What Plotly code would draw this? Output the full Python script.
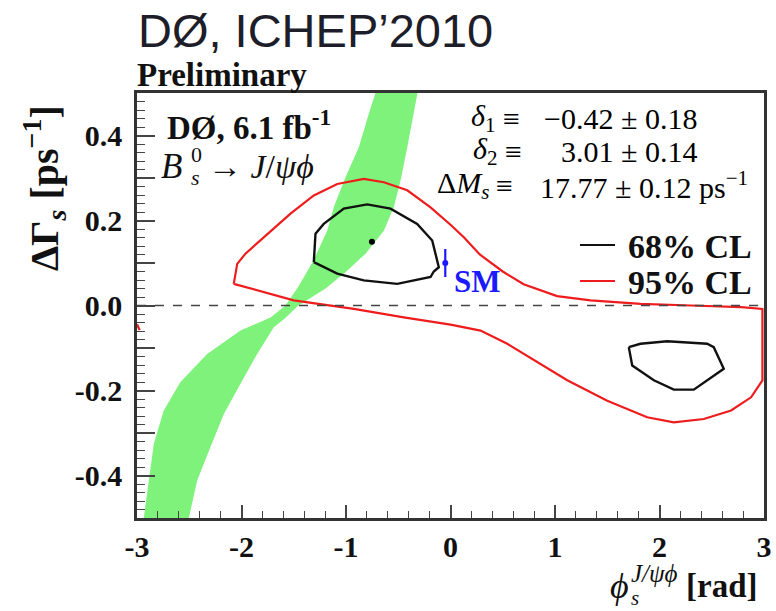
import plotly.graph_objects as go

# ---------------- data ----------------
# green band: left boundary (bottom -> top) and right boundary (top -> bottom)
band_left_x = [-2.935, -2.839, -2.744, -2.584, -2.328, -2.010, -1.722, -1.579,
               -1.455, -1.311, -1.180, -1.117, -1.005, -0.878, -0.782, -0.718]
band_left_y = [-0.500, -0.325, -0.247, -0.180, -0.114, -0.059, -0.028, 0.000,
               0.045, 0.106, 0.176, 0.231, 0.302, 0.372, 0.451, 0.500]
band_right_x = [-0.316, -0.351, -0.414, -0.478, -0.543, -0.638, -0.737, -0.813,
                -1.005, -1.196, -1.455, -1.589, -1.691, -1.850, -2.010, -2.169,
                -2.297, -2.424, -2.504]
band_right_y = [0.500, 0.451, 0.372, 0.294, 0.231, 0.176, 0.146, 0.122,
                0.078, 0.040, 0.000, -0.031, -0.051, -0.114, -0.184, -0.255,
                -0.333, -0.412, -0.500]

# 95% CL contour
cl95_x = [-2.074, -2.041, -1.962, -1.787, -1.531, -1.308, -1.084, -0.830, -0.638,
          -0.414, -0.191, 0.000, 0.130, 0.280, 0.500, 0.700, 1.020, 1.340, 1.820,
          2.300, 2.780, 2.985, 2.985, 2.876, 2.685, 2.424, 2.137, 1.882, 1.500,
          1.117, 0.797, 0.543, 0.287, 0.000, -0.447, -0.925, -1.500, -2.074]
cl95_y = [0.051, 0.098, 0.122, 0.161, 0.216, 0.259, 0.286, 0.298, 0.290,
          0.271, 0.231, 0.190, 0.160, 0.120, 0.080, 0.050, 0.022, 0.012, 0.004,
          0.000, -0.004, -0.008, -0.176, -0.216, -0.247, -0.267, -0.275, -0.263,
          -0.224, -0.176, -0.129, -0.090, -0.059, -0.045, -0.028, -0.008, 0.012,
          0.051]
cl95_wrap_x = [-3.0, -2.975]
cl95_wrap_y = [-0.044, -0.058]

# 68% CL contours
cl68a_x = [-1.308, -1.292, -1.213, -1.021, -0.797, -0.574, -0.319, -0.175,
           -0.112, -0.160, -0.191, -0.510, -0.830, -1.084, -1.308]
cl68a_y = [0.102, 0.169, 0.192, 0.228, 0.238, 0.228, 0.192, 0.153,
           0.090, 0.080, 0.067, 0.051, 0.059, 0.075, 0.102]
cl68b_x = [1.706, 1.739, 1.946, 2.137, 2.328, 2.615, 2.519, 2.456, 2.074, 1.818, 1.706]
cl68b_y = [-0.098, -0.141, -0.176, -0.198, -0.198, -0.149, -0.098, -0.090, -0.084, -0.090, -0.098]

best_fit_x = [-0.752]
best_fit_y = [0.150]

sm_x = [-0.05]
sm_y = [0.100]
sm_err = [0.033]

x_tick_vals = [-3, -2, -1, 0, 1, 2, 3]
x_tick_text = ["-3", "-2", "-1", "0", "1", "2", "3"]
y_tick_vals = [-0.4, -0.3, -0.2, -0.1, 0.0, 0.1, 0.2, 0.3, 0.4]
y_tick_text = ["-0.4", "", "-0.2", "", "0.0", "", "0.2", "", "0.4"]

# ---------------- layout helpers ----------------
L, T, W, H = 137, 93, 627, 425
FIG_W, FIG_H = 776, 611


def fx(p):
    return (p - L) / W


def fy(p):
    return (T + H - p) / H


SERIF = "Liberation Serif, Times New Roman, serif"
SANS = "Liberation Sans, Arial, sans-serif"
INK = "#111111"

fig = go.Figure()

fig.add_trace(go.Scatter(
    x=band_left_x + band_right_x, y=band_left_y + band_right_y,
    fill="toself", fillcolor="rgb(126,242,122)", mode="lines",
    line=dict(width=0, color="rgb(126,242,122)"), hoverinfo="skip", showlegend=False))

fig.add_trace(go.Scatter(x=cl95_x, y=cl95_y, mode="lines",
                         line=dict(color="#ee1c1c", width=2.2), showlegend=False))
fig.add_trace(go.Scatter(x=cl95_wrap_x, y=cl95_wrap_y, mode="lines",
                         line=dict(color="#ee1c1c", width=2.2), showlegend=False))
fig.add_trace(go.Scatter(x=cl68a_x, y=cl68a_y, mode="lines",
                         line=dict(color="#111111", width=2.4), showlegend=False))
fig.add_trace(go.Scatter(x=cl68b_x, y=cl68b_y, mode="lines",
                         line=dict(color="#111111", width=2.4), showlegend=False))
fig.add_trace(go.Scatter(x=best_fit_x, y=best_fit_y, mode="markers",
                         marker=dict(color="#000000", size=6), showlegend=False))
fig.add_trace(go.Scatter(x=sm_x, y=sm_y, mode="markers",
                         marker=dict(color="#1a1aff", size=6),
                         error_y=dict(type="data", array=sm_err, color="#1a1aff",
                                      thickness=2.2, width=0),
                         showlegend=False))

# dashed zero line
fig.add_shape(type="line", xref="paper", x0=0, x1=1, yref="y", y0=0, y1=0,
              line=dict(color="#444444", width=1.6, dash="dash"))

# legend lines
fig.add_shape(type="line", xref="paper", yref="paper", x0=fx(580), x1=fx(615),
              y0=fy(245), y1=fy(245), line=dict(color="#111111", width=2.2))
fig.add_shape(type="line", xref="paper", yref="paper", x0=fx(580), x1=fx(615),
              y0=fy(281), y1=fy(281), line=dict(color="#ee1c1c", width=2.2))

ann = []


def text(t, x, y, size, family=SERIF, color=INK, xanchor="left", weight="normal",
         angle=0):
    ann.append(dict(text=t, x=fx(x), y=fy(y), xref="paper", yref="paper",
                    xanchor=xanchor, yanchor="middle", showarrow=False,
                    textangle=angle,
                    font=dict(family=family, size=size, color=color, weight=weight)))


text("DØ, ICHEP’2010", 136, 30, 47, family=SANS, color="#1e1e2a")
text("Preliminary", 135, 75, 33, weight="bold")
text("DØ, 6.1 fb<sup>-1</sup>", 165, 125, 33, weight="bold")
text("<i>B</i>", 159, 166, 35)
text("0", 189, 154, 22)
text("<i>s</i>", 189, 177, 22)
text("→ <i>J</i>/<i>ψϕ</i>", 206, 166, 34)

# parameter block
text("<i>δ</i><sub>1</sub>", 497, 118, 30, xanchor="right", color="#000000")
text("<i>δ</i><sub>2</sub>", 499, 151, 30, xanchor="right", color="#000000")
text("Δ<i>M</i><sub><i>s</i></sub>", 491, 185, 30, xanchor="right", color="#000000")
text("≡", 511, 118, 30, xanchor="center", color="#000000")
text("≡", 513, 151, 30, xanchor="center", color="#000000")
text("≡", 504, 185, 30, xanchor="center", color="#000000")
text("−0.42 ± 0.18", 699, 118, 30, xanchor="right", color="#000000")
text("3.01 ± 0.14", 699, 151, 30, xanchor="right", color="#000000")
text("17.77 ± 0.12 ps<sup>−1</sup>", 538, 185, 30, color="#000000")

# legend texts
text("68% CL", 626, 246, 34, weight="bold")
text("95% CL", 626, 282, 34, weight="bold")

# SM label
text("SM", 452, 281, 31, color="#1a1aff", weight="bold")

# axis titles
text("ΔΓ<sub><i>s</i></sub> [ps<sup>−1</sup>]", 44, 188, 40, xanchor="center",
     weight="bold", angle=-90)
text("<i>ϕ</i>", 608, 586, 36)
text("<i>J/ψϕ</i>", 629, 573, 25)
text("<i>s</i>", 629, 598, 21)
text("[rad]", 684, 586, 33, weight="bold")

fig.update_layout(
    width=FIG_W, height=FIG_H,
    margin=dict(l=L, r=FIG_W - L - W, t=T, b=FIG_H - T - H, pad=0, autoexpand=False),
    plot_bgcolor="white", paper_bgcolor="white",
    showlegend=False,
    annotations=ann,
    xaxis=dict(range=[-3, 3], tickmode="array", tickvals=x_tick_vals, ticktext=x_tick_text,
               ticks="inside", ticklen=13, tickwidth=1.5, tickcolor="#444444",
               minor=dict(tickmode="linear", tick0=0, dtick=0.2, ticks="inside",
                          ticklen=7, tickwidth=1.2, tickcolor="#444444"),
               showline=True, linecolor="#333333", linewidth=2.5, mirror=True,
               showgrid=False, zeroline=False, automargin=False,
               tickfont=dict(family=SERIF, size=30, color=INK, weight="bold")),
    yaxis=dict(range=[-0.5, 0.5], tickmode="array", tickvals=y_tick_vals, ticktext=y_tick_text,
               ticks="inside", ticklen=18, tickwidth=1.5, tickcolor="#444444",
               minor=dict(tickmode="linear", tick0=0, dtick=0.02, ticks="inside",
                          ticklen=8, tickwidth=1.2, tickcolor="#444444"),
               showline=True, linecolor="#333333", linewidth=2.5, mirror=True,
               showgrid=False, zeroline=False, ticklabelstandoff=6, automargin=False,
               tickfont=dict(family=SERIF, size=30, color=INK, weight="bold")),
)

fig.write_html("out.html")
